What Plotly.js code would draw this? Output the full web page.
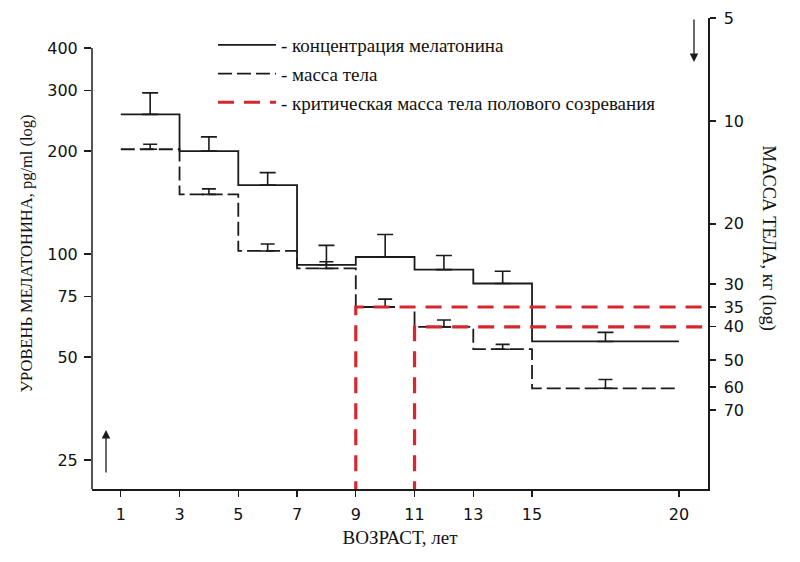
<!DOCTYPE html>
<html>
<head>
<meta charset="utf-8">
<script src="https://cdn.plot.ly/plotly-3.0.1.min.js"></script>
<style>
  html, body { margin: 0; padding: 0; background: #fff; }
  #chart { width: 800px; height: 562px; }
</style>
</head>
<body>
<div id="chart"></div>
<script>
// ---- data ----
const ageEdges = [1, 3, 5, 7, 9, 11, 13, 15, 20];            // age interval edges, years
const errAge = [2, 4, 6, 8, 10, 12, 14, 17.5];               // x of error bars (interval middles)
const melatonin = [256, 200, 159, 93, 98, 90, 82, 55.5];     // pg/ml per interval
const melatoninErrTop = [296, 220, 173, 106, 114, 99, 89, 59];
const bodyMass = [12.1, 16.4, 24, 27, 35, 40, 46.5, 60.5];   // kg per interval
const bodyMassErrTop = [11.7, 15.8, 22.9, 25.8, 33.2, 38.2, 45, 57];
const critAge = [9, 11];                                      // age where critical mass is reached
const critMass = [35, 40];                                    // critical body mass, kg
const xTicks = [1, 3, 5, 7, 9, 11, 13, 15, 20];
const yLeftTicks = [25, 50, 75, 100, 200, 300, 400];
const yRightTicks = [5, 10, 20, 30, 35, 40, 50, 60, 70];

const legendNames = [
  '- концентрация мелатонина',
  '- масса тела',
  '- критическая масса тела полового созревания'
];

// ---- ranges ----
const xRange = [0.02, 20.99];
const yLeftRange = [1.3129, 2.6901];    // log10
const yRightRange = [2.0762, 0.6990];   // log10, reversed

const black = '#1b1b1b';
const red = '#d4282e';
const serif = 'Liberation Serif, Times New Roman, serif';
const sans = 'DejaVu Sans, sans-serif';

const stepMel = melatonin.concat([melatonin[melatonin.length - 1]]);
const stepMass = bodyMass.concat([bodyMass[bodyMass.length - 1]]);

const traces = [
  {
    x: ageEdges, y: stepMel, type: 'scatter', mode: 'lines',
    line: { shape: 'hv', color: black, width: 1.8 },
    name: legendNames[0], legendgroup: 'a', yaxis: 'y', hoverinfo: 'skip'
  },
  {
    x: ageEdges, y: stepMass, type: 'scatter', mode: 'lines',
    line: { shape: 'hv', color: black, width: 1.8, dash: '14px,5px' },
    name: legendNames[1], legendgroup: 'b', yaxis: 'y2', hoverinfo: 'skip'
  },
  {
    x: errAge, y: melatonin, type: 'scatter', mode: 'markers',
    marker: { size: 1, color: 'rgba(0,0,0,0)' }, showlegend: false, yaxis: 'y',
    error_y: {
      type: 'data', symmetric: false,
      array: melatoninErrTop.map((t, i) => t - melatonin[i]),
      arrayminus: melatonin.map(() => 0),
      color: black, thickness: 1.6, width: 8
    }, hoverinfo: 'skip'
  },
  {
    x: errAge, y: bodyMass, type: 'scatter', mode: 'markers',
    marker: { size: 1, color: 'rgba(0,0,0,0)' }, showlegend: false, yaxis: 'y2',
    error_y: {
      type: 'data', symmetric: false,
      array: bodyMass.map(() => 0),
      arrayminus: bodyMass.map((m, i) => m - bodyMassErrTop[i]),
      color: black, thickness: 1.6, width: 7
    }, hoverinfo: 'skip'
  }
];

critAge.forEach((a, i) => {
  traces.push({
    x: [a, a, xRange[1] + 2],
    y: [Math.pow(10, yRightRange[0]) * 1.5, critMass[i], critMass[i]],
    type: 'scatter', mode: 'lines',
    line: { color: red, width: 3.2, dash: '16px,10px' },
    name: legendNames[2], legendgroup: 'c', showlegend: i === 0,
    yaxis: 'y2', hoverinfo: 'skip'
  });
});

const top400 = (Math.log10(400) - yLeftRange[0]) / (yLeftRange[1] - yLeftRange[0]);

const layout = {
  width: 800, height: 562,
  margin: { l: 92, r: 92, t: 18, b: 73 },
  paper_bgcolor: '#fff', plot_bgcolor: '#fff',
  showlegend: true,
  legend: {
    x: 0.1964, y: 0.983, xanchor: 'left', yanchor: 'top',
    bgcolor: 'rgba(0,0,0,0)', borderwidth: 0,
    font: { family: serif, size: 19, color: '#111' },
    itemwidth: 58, traceorder: 'grouped', tracegroupgap: 1
  },
  xaxis: {
    range: xRange, tickmode: 'array', tickvals: xTicks, ticktext: xTicks.map(String),
    ticks: 'outside', ticklen: 6, tickwidth: 1.3, tickcolor: black,
    showline: true, linecolor: black, linewidth: 1.5,
    showgrid: false, zeroline: false,
    tickfont: { family: sans, size: 16, color: '#111' },
    ticklabelstandoff: 4,
    title: { text: 'ВОЗРАСТ, лет', font: { family: serif, size: 19, color: '#111' }, standoff: 8 }
  },
  yaxis: {
    type: 'log', range: yLeftRange,
    tickmode: 'array', tickvals: yLeftTicks, ticktext: yLeftTicks.map(String),
    ticks: 'outside', ticklen: 7, tickwidth: 1.3, tickcolor: black,
    showline: false, showgrid: false, zeroline: false,
    tickfont: { family: sans, size: 16, color: '#111' },
    ticklabelstandoff: 3,
    title: { text: 'УРОВЕНЬ МЕЛАТОНИНА, pg/ml (log)', font: { family: serif, size: 16.5, color: '#111' }, standoff: 10 }
  },
  yaxis2: {
    type: 'log', range: yRightRange, overlaying: 'y', side: 'right',
    tickmode: 'array', tickvals: yRightTicks, ticktext: yRightTicks.map(String),
    ticks: 'outside', ticklen: 6, tickwidth: 1.3, tickcolor: black,
    showline: true, linecolor: black, linewidth: 1.5,
    showgrid: false, zeroline: false,
    tickfont: { family: sans, size: 16, color: '#111' },
    ticklabelstandoff: 5
  },
  shapes: [
    { type: 'line', xref: 'paper', yref: 'paper', x0: 0, x1: 0, y0: 0, y1: top400,
      line: { color: black, width: 1.5 } }
  ],
  annotations: [
    { text: 'МАССА ТЕЛА, кг (log)', textangle: 90, xref: 'paper', yref: 'paper',
      x: (768 - 92) / 616, y: (489 - 237.5) / 471, showarrow: false,
      xanchor: 'center', yanchor: 'middle',
      font: { family: serif, size: 18.5, color: '#111' } },
    { text: '', xref: 'paper', yref: 'paper', x: (106 - 92) / 616, y: (489 - 430) / 471,
      ax: 0, ay: 44, showarrow: true, arrowhead: 2, arrowsize: 1.3, arrowwidth: 1.3, arrowcolor: black },
    { text: '', xref: 'paper', yref: 'paper', x: (694 - 92) / 616, y: (489 - 62) / 471,
      ax: 0, ay: -44, showarrow: true, arrowhead: 2, arrowsize: 1.3, arrowwidth: 1.3, arrowcolor: black }
  ]
};

Plotly.newPlot('chart', traces, layout, { staticPlot: true, displayModeBar: false });
</script>
</body>
</html>
